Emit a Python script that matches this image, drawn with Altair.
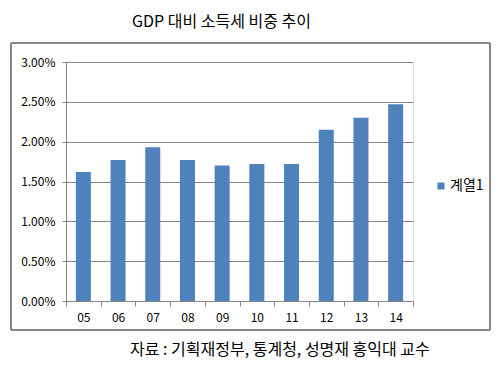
import altair as alt
import pandas as pd

years = ["05", "06", "07", "08", "09", "10", "11", "12", "13", "14"]
shares = [0.0162, 0.0177, 0.0193, 0.0177, 0.0170, 0.0172, 0.0172, 0.0215, 0.0230, 0.0247]
series = ["계열1"] * len(years)
title_text = "GDP 대비 소득세 비중 추이"
source_text = "자료 : 기획재정부, 통계청, 성명재 홍익대 교수"

df = pd.DataFrame({"year": years, "share": shares, "series": series})
FONT = "Noto Sans CJK KR"
GRAY = "#868686"

bars = alt.Chart(df).mark_bar(size=15, color="#4F81BD").encode(
    x=alt.X("year:N", sort=years, title=None,
            scale=alt.Scale(paddingInner=0, paddingOuter=0),
            axis=alt.Axis(labelAngle=0, tickBand="extent", tickSize=5, labelPadding=6,
                          domainColor=GRAY, tickColor=GRAY, labelFontSize=12,
                          labelFont=FONT, labelColor="#000000")),
    y=alt.Y("share:Q", title=None,
            scale=alt.Scale(domain=[0, 0.03], nice=False),
            axis=alt.Axis(format=".2%", values=[0, 0.005, 0.01, 0.015, 0.02, 0.025, 0.03],
                          tickSize=4, labelPadding=7, domainColor=GRAY, tickColor=GRAY,
                          gridColor=GRAY, labelFontSize=12, labelFont=FONT,
                          labelColor="#000000")),
    color=alt.Color("series:N", scale=alt.Scale(range=["#4F81BD"]), title=None,
                    legend=alt.Legend(orient="none", legendX=368, legendY=117,
                                      symbolType="square", symbolSize=49,
                                      symbolStrokeWidth=0, labelFontSize=14,
                                      labelFont=FONT, labelOffset=2,
                                      labelColor="#000000")),
)

frame = alt.Chart(df).mark_rect(fill=None, stroke=GRAY, strokeWidth=1, clip=False).encode(
    x=alt.value(-55), x2=alt.value(424), y=alt.value(-19), y2=alt.value(268)
)

title = alt.Chart(pd.DataFrame({"t": [title_text]})).mark_text(
    align="left", baseline="middle", fontSize=16, font=FONT, color="#000000"
).encode(x=alt.value(66), y=alt.value(-40), text="t:N")

source = alt.Chart(pd.DataFrame({"t": [source_text]})).mark_text(
    align="left", baseline="middle", fontSize=16, font=FONT, color="#000000"
).encode(x=alt.value(64), y=alt.value(288), text="t:N")

chart = alt.layer(frame, bars, title, source).properties(
    width=347, height=239,
    autosize=alt.AutoSizeParams(type="none"),
    padding={"left": 58, "top": 54, "right": 81, "bottom": 60},
).configure_view(stroke=None).configure(background="white")

chart.save("out.html", embed_options={"renderer": "svg", "actions": False})
